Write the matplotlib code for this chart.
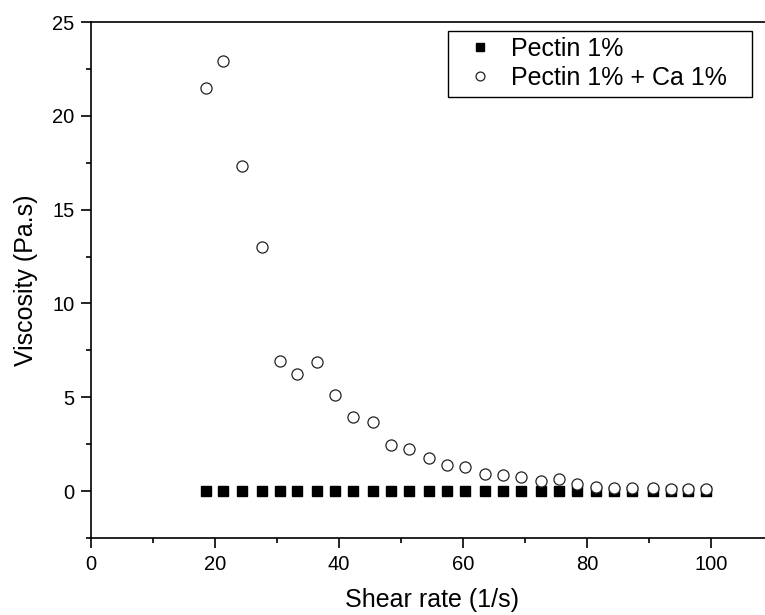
import numpy as np
import matplotlib
matplotlib.use("Agg")
from matplotlib import pyplot as plt
from matplotlib.ticker import MultipleLocator
from matplotlib.patches import Rectangle

plt.rcParams['font.family'] = ['Liberation Sans', 'DejaVu Sans']

# shear rate (1/s)
shear = [18.5, 21.3, 24.3, 27.5, 30.4, 33.3, 36.5, 39.4, 42.3, 45.5,
         48.4, 51.3, 54.5, 57.4, 60.3, 63.5, 66.4, 69.3, 72.6, 75.4,
         78.4, 81.5, 84.4, 87.3, 90.6, 93.5, 96.3, 99.2]
# viscosity (Pa.s)
pectin = [0.0] * 28
pectin_ca = [21.5, 22.93, 17.3, 12.99, 6.93, 6.25, 6.89, 5.11, 3.96, 3.66,
             2.47, 2.27, 1.78, 1.37, 1.30, 0.92, 0.85, 0.73, 0.55, 0.62,
             0.36, 0.23, 0.18, 0.18, 0.14, 0.11, 0.11, 0.09]

fig = plt.figure(figsize=(7.65, 6.15), dpi=100)
ax = fig.add_axes([0.119, 0.1252, 0.8915, 0.839])

ax.plot(shear, pectin, 's', color='black', markersize=7, label='Pectin 1%')
ax.plot(shear, pectin_ca, 'o', markerfacecolor='white', markeredgecolor='#222222',
        markeredgewidth=0.9, markersize=8, label='Pectin 1% + Ca 1%')

ax.set_xlim(0, 110)
ax.set_ylim(-2.5, 25)
ax.xaxis.set_major_locator(MultipleLocator(20))
ax.xaxis.set_minor_locator(MultipleLocator(10))
ax.yaxis.set_major_locator(MultipleLocator(5))
ax.yaxis.set_minor_locator(MultipleLocator(2.5))
ax.tick_params(which='both', direction='out', width=1.2, labelsize=14.5)
ax.tick_params(which='major', length=7, pad=5)
ax.tick_params(which='minor', length=3.5)
ax.spines['right'].set_visible(False)
for s in ['left', 'bottom', 'top']:
    ax.spines[s].set_linewidth(1.2)

ax.set_xlabel('Shear rate (1/s)', fontsize=18, labelpad=10)
ax.set_ylabel('Viscosity (Pa.s)', fontsize=18, labelpad=10)

# legend without its own frame, box drawn separately (wider on the right like the original)
leg = ax.legend(loc='upper left', bbox_to_anchor=(0.5396, 0.983), borderaxespad=0,
                fontsize=18, frameon=False, markerscale=0.8, handletextpad=0.64,
                borderpad=0.25, handlelength=1.2, labelspacing=0.2)
ax.add_patch(Rectangle((0.5235, 0.8547), 0.4455, 0.1279, transform=ax.transAxes,
                       fill=False, edgecolor='black', linewidth=1.0, zorder=5))

fig.savefig('out.png', dpi=100)
